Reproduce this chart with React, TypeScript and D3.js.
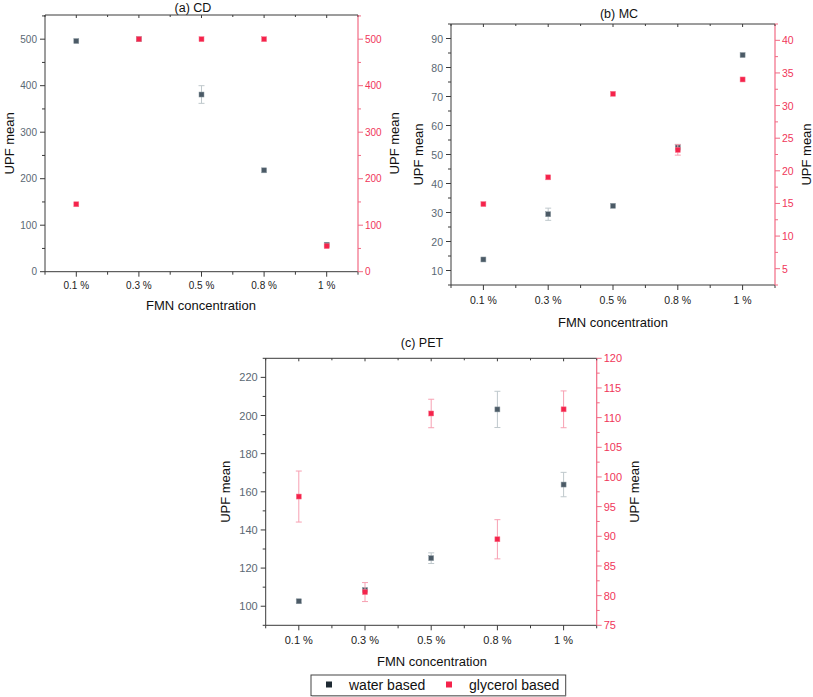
import React from "react";
import * as d3 from "d3";

const categories = ["0.1 %", "0.3 %", "0.5 %", "0.8 %", "1 %"];

// (a) CD
const cdWater = [496, 500, 381, 218, 58];
const cdWaterErr = [0, 0, 19, 0, 0];
const cdGlycerol = [145, 500, 500, 500, 55];
const cdGlycerolErr = [0, 0, 0, 0, 0];
const cdLeftTicks = [0, 100, 200, 300, 400, 500];
const cdRightTicks = [0, 100, 200, 300, 400, 500];

// (b) MC
const mcWater = [13.8, 29.4, 32.3, 52.5, 84.3];
const mcWaterErr = [0, 2.1, 0, 1, 0];
const mcGlycerol = [14.9, 19.0, 31.8, 23.2, 34.0];
const mcGlycerolErr = [0, 0, 0, 0.8, 0];
const mcLeftTicks = [10, 20, 30, 40, 50, 60, 70, 80, 90];
const mcRightTicks = [5, 10, 15, 20, 25, 30, 35, 40];

// (c) PET
const petWater = [102.6, 108.5, 125.2, 203.2, 163.8];
const petWaterErr = [0.8, 0.5, 2.8, 9.5, 6.4];
const petGlycerol = [96.7, 80.6, 110.7, 89.5, 111.4];
const petGlycerolErr = [4.3, 1.6, 2.4, 3.3, 3.1];
const petLeftTicks = [100, 120, 140, 160, 180, 200, 220];
const petRightTicks = [75, 80, 85, 90, 95, 100, 105, 110, 115, 120];

const FONT = "'Liberation Sans', Arial, Helvetica, sans-serif";
const WATER = "#4b5a66";
const WATER_ERR = "#bfc8cc";
const GLY = "#f5234b";
const GLY_ERR = "#f7a0b2";
const LEFT_TXT = "#5a6873";
const RIGHT_TXT = "#f0365a";
const RIGHT_AX = "#f26a84";
const AX = "#3a3a3a";

type PanelCfg = {
  title: string;
  x0: number; x1: number; y0: number; y1: number;
  left: [number, number]; right: [number, number];
  leftTicks: number[]; rightTicks: number[];
  leftMinor: number; rightMinor: number;
  fs: number;
  titleX: number; titleY: number;
  leftLabelX: number; rightLabelX: number;
  tickLabelY: number; xTitleY: number; xTitleX: number;
  water: number[]; waterErr: number[];
  gly: number[]; glyErr: number[];
};

const panels: PanelCfg[] = [
  {
    title: "(a) CD", x0: 45, x1: 358, y0: 15, y1: 271.7,
    left: [0, 552], right: [0, 552], leftTicks: cdLeftTicks, rightTicks: cdRightTicks,
    leftMinor: 50, rightMinor: 50, fs: 10,
    titleX: 193, titleY: 7.5, leftLabelX: 9, rightLabelX: 394,
    tickLabelY: 285, xTitleY: 305, xTitleX: 201,
    water: cdWater, waterErr: cdWaterErr, gly: cdGlycerol, glyErr: cdGlycerolErr,
  },
  {
    title: "(b) MC", x0: 451, x1: 775, y0: 24, y1: 285,
    left: [5, 95], right: [2.5, 42.5], leftTicks: mcLeftTicks, rightTicks: mcRightTicks,
    leftMinor: 5, rightMinor: 2.5, fs: 10.5,
    titleX: 619, titleY: 13.5, leftLabelX: 418, rightLabelX: 806,
    tickLabelY: 300, xTitleY: 322, xTitleX: 613,
    water: mcWater, waterErr: mcWaterErr, gly: mcGlycerol, glyErr: mcGlycerolErr,
  },
  {
    title: "(c) PET", x0: 265.7, x1: 596.7, y0: 358.3, y1: 625.3,
    left: [90, 230], right: [75, 120], leftTicks: petLeftTicks, rightTicks: petRightTicks,
    leftMinor: 10, rightMinor: 2.5, fs: 11,
    titleX: 422, titleY: 343, leftLabelX: 225, rightLabelX: 634,
    tickLabelY: 640, xTitleY: 661, xTitleX: 432,
    water: petWater, waterErr: petWaterErr, gly: petGlycerol, glyErr: petGlycerolErr,
  },
];

function range(a: number, b: number, step: number) {
  const out: number[] = [];
  const start = Math.ceil(a / step - 1e-9) * step;
  for (let v = start; v <= b + 1e-9; v += step) out.push(+v.toFixed(6));
  return out;
}

function Panel({ p }: { p: PanelCfg }) {
  const x = d3.scaleLinear().domain([0.5, categories.length + 0.5]).range([p.x0, p.x1]);
  const yL = d3.scaleLinear().domain(p.left).range([p.y1, p.y0]);
  const yR = d3.scaleLinear().domain(p.right).range([p.y1, p.y0]);
  const xMajor = categories.map((_, i) => i + 1);
  const xMinor = d3.range(0, categories.length + 1).map((i) => i + 0.5);
  const leftMinor = range(p.left[0], p.left[1], p.leftMinor).filter((v) => !p.leftTicks.includes(v));
  const rightMinor = range(p.right[0], p.right[1], p.rightMinor).filter((v) => !p.rightTicks.includes(v));
  const ms = 5;
  const cap = 3;

  const errBars = (vals: number[], errs: number[], scale: any, color: string) =>
    vals.map((v, i) => {
      const e = errs[i];
      if (!e) return null;
      const cx = x(i + 1);
      const t = scale(v + e);
      const b = scale(v - e);
      return (
        <g key={"e" + i} stroke={color} strokeWidth={1}>
          <line x1={cx} x2={cx} y1={t} y2={b} />
          <line x1={cx - cap} x2={cx + cap} y1={t} y2={t} />
          <line x1={cx - cap} x2={cx + cap} y1={b} y2={b} />
        </g>
      );
    });

  return (
    <g fontFamily={FONT}>
      <text x={p.titleX} y={p.titleY} fontSize={12.5} textAnchor="middle" dominantBaseline="central" fill="#111">
        {p.title}
      </text>
      {/* frame */}
      <line x1={p.x0} x2={p.x1} y1={p.y0} y2={p.y0} stroke={AX} strokeWidth={1} />
      <line x1={p.x0} x2={p.x1} y1={p.y1} y2={p.y1} stroke={AX} strokeWidth={1} />
      <line x1={p.x0} x2={p.x0} y1={p.y0} y2={p.y1} stroke={AX} strokeWidth={1} />
      <line x1={p.x1} x2={p.x1} y1={p.y0} y2={p.y1} stroke={RIGHT_AX} strokeWidth={1.2} />
      {/* bottom & top ticks */}
      {xMajor.map((v) => (
        <g key={"xm" + v} stroke={AX} strokeWidth={1}>
          <line x1={x(v)} x2={x(v)} y1={p.y1} y2={p.y1 + 5} />
          <line x1={x(v)} x2={x(v)} y1={p.y0} y2={p.y0 + 3} />
        </g>
      ))}
      {xMinor.map((v) => (
        <g key={"xn" + v} stroke={AX} strokeWidth={1}>
          <line x1={x(v)} x2={x(v)} y1={p.y1} y2={p.y1 + 3} />
          <line x1={x(v)} x2={x(v)} y1={p.y0} y2={p.y0 + 2} />
        </g>
      ))}
      {categories.map((c, i) => (
        <text key={"xl" + i} x={x(i + 1)} y={p.tickLabelY} fontSize={p.fs} textAnchor="middle" dominantBaseline="central" fill="#222">
          {c}
        </text>
      ))}
      <text x={p.xTitleX} y={p.xTitleY} fontSize={13} textAnchor="middle" dominantBaseline="central" fill="#111">
        FMN concentration
      </text>
      {/* left axis */}
      {p.leftTicks.map((v) => (
        <g key={"lt" + v}>
          <line x1={p.x0 - 5} x2={p.x0} y1={yL(v)} y2={yL(v)} stroke={AX} />
          <text x={p.x0 - 8} y={yL(v)} fontSize={p.fs} textAnchor="end" dominantBaseline="central" fill={LEFT_TXT}>
            {v}
          </text>
        </g>
      ))}
      {leftMinor.map((v) => (
        <line key={"lm" + v} x1={p.x0 - 3} x2={p.x0} y1={yL(v)} y2={yL(v)} stroke={AX} />
      ))}
      <text
        transform={`translate(${p.leftLabelX},${(p.y0 + p.y1) / 2}) rotate(-90)`}
        fontSize={13} textAnchor="middle" dominantBaseline="central" fill="#111"
      >
        UPF mean
      </text>
      {/* right axis */}
      {p.rightTicks.map((v) => (
        <g key={"rt" + v}>
          <line x1={p.x1} x2={p.x1 + 5} y1={yR(v)} y2={yR(v)} stroke={RIGHT_AX} />
          <text x={p.x1 + 7} y={yR(v)} fontSize={p.fs} textAnchor="start" dominantBaseline="central" fill={RIGHT_TXT}>
            {v}
          </text>
        </g>
      ))}
      {rightMinor.map((v) => (
        <line key={"rm" + v} x1={p.x1} x2={p.x1 + 3} y1={yR(v)} y2={yR(v)} stroke={RIGHT_AX} />
      ))}
      <text
        transform={`translate(${p.rightLabelX},${(p.y0 + p.y1) / 2}) rotate(-90)`}
        fontSize={13} textAnchor="middle" dominantBaseline="central" fill="#111"
      >
        UPF mean
      </text>
      {/* data */}
      {errBars(p.water, p.waterErr, yL, WATER_ERR)}
      {p.water.map((v, i) => (
        <rect key={"w" + i} x={x(i + 1) - ms / 2} y={yL(v) - ms / 2} width={ms} height={ms} fill={WATER} stroke="#8d9aa2" strokeWidth={0.5} />
      ))}
      {errBars(p.gly, p.glyErr, yR, GLY_ERR)}
      {p.gly.map((v, i) => (
        <rect key={"g" + i} x={x(i + 1) - ms / 2} y={yR(v) - ms / 2} width={ms} height={ms} fill={GLY} stroke="#f7788f" strokeWidth={0.5} />
      ))}
    </g>
  );
}

export default function App() {
  return (
    <svg width={813} height={697} style={{ position: "absolute", left: 0, top: 0, background: "#fff" }}>
      <rect x={0} y={0} width={813} height={697} fill="#fff" />
      {panels.map((p) => (
        <Panel key={p.title} p={p} />
      ))}
      <g fontFamily={FONT}>
        <rect x={311} y={675} width={254.7} height={20.7} fill="#fff" stroke="#444" strokeWidth={1} />
        <line x1={312} x2={566} y1={696} y2={696} stroke="#999" />
        <rect x={326} y={681.5} width={6} height={6} fill="#1e2a33" />
        <text x={349} y={685} fontSize={14} dominantBaseline="central" fill="#111">water based</text>
        <rect x={446} y={681.5} width={6} height={6} fill={GLY} />
        <text x={469} y={685} fontSize={14} dominantBaseline="central" fill="#111">glycerol based</text>
      </g>
    </svg>
  );
}
